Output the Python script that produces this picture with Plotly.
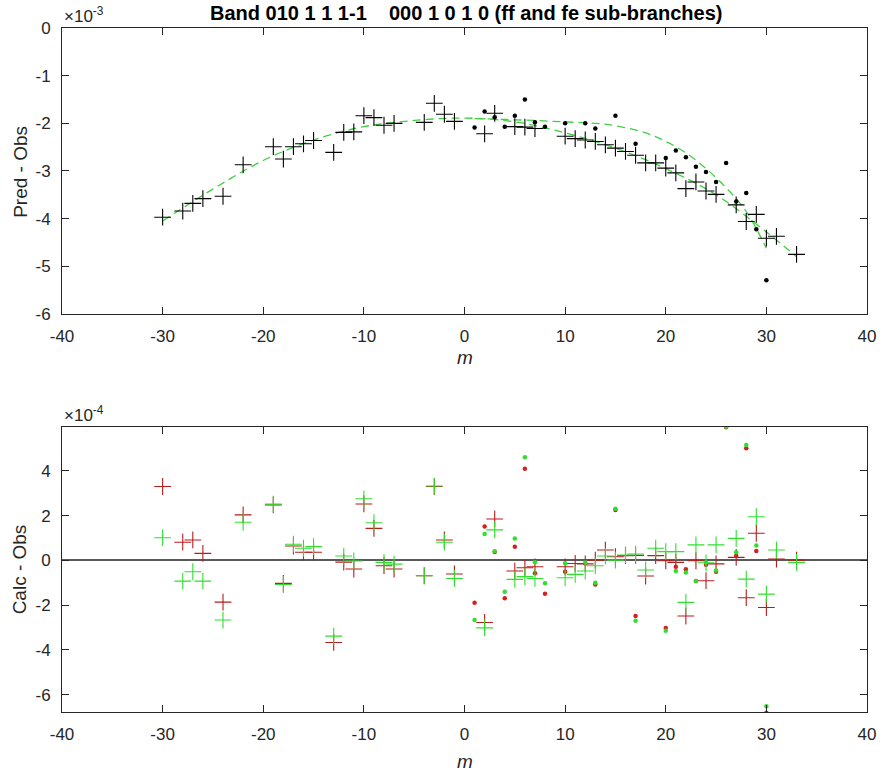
import plotly.graph_objects as go

# ---- data -------------------------------------------------------------
# ff sub-branch lines (crosses) and fe sub-branch lines (dots)
ff_m = [-30, -28, -27, -26, -24, -22, -19, -18, -17, -16, -15, -13, -12, -11,
        -10, -9, -8, -7, -4, -3, -2, -1, 2, 3, 5, 6, 7, 10, 11, 12, 13, 14,
        15, 16, 17, 18, 19, 20, 21, 22, 23, 24, 25, 27, 28, 29, 30, 31, 33]
fe_m = [1, 2, 3, 4, 5, 6, 7, 8, 10, 12, 13, 15, 17, 20, 21, 22, 23, 24, 25,
        26, 27, 28, 29, 30]

# Pred - Obs, units of 1e-3
ff_pred_obs = [-3.97, -3.84, -3.68, -3.58, -3.53, -2.87, -2.49, -2.75, -2.49,
               -2.43, -2.36, -2.61, -2.19, -2.18, -1.84, -1.88, -2.04, -2.00,
               -1.98, -1.58, -1.81, -1.96, -2.22, -1.79, -2.07, -2.08, -2.11,
               -2.27, -2.32, -2.35, -2.38, -2.45, -2.52, -2.59, -2.67, -2.83,
               -2.83, -2.94, -3.04, -3.37, -3.23, -3.42, -3.49, -3.71, -4.06,
               -3.91, -4.41, -4.37, -4.75]
fe_pred_obs = [-2.09, -1.75, -1.87, -2.07, -1.84, -1.50, -1.98, -2.07, -2.00,
               -2.00, -2.11, -1.84, -2.43, -2.73, -2.57, -2.71, -2.91, -3.02,
               -3.23, -2.83, -3.64, -3.46, -4.22, -5.29]

# smooth fitted curves through Pred - Obs, units of 1e-3
ff_fit_m = [-30, -25, -20, -15, -10, -5, 0, 5, 10, 15, 20, 25, 30, 33]
ff_fit = [-4.05, -3.38, -2.78, -2.35, -2.07, -1.94, -1.89, -1.97, -2.20,
          -2.52, -2.95, -3.50, -4.28, -4.80]
fe_fit_m = [1, 4, 7, 10, 13, 15, 18, 20, 22, 24, 26, 28, 30]
fe_fit = [-1.90, -1.92, -1.94, -1.97, -2.00, -2.05, -2.20, -2.38, -2.62,
          -2.95, -3.35, -3.85, -4.62]

# Calc - Obs, units of 1e-4 (red and green fits)
ff_calc_red = [3.30, 0.81, 0.91, 0.31, -1.87, 2.03, 2.48, -1.03, 0.64, 0.36,
               0.36, -3.67, -0.08, -0.39, 2.52, 1.43, -0.24, -0.39, -0.69,
               3.30, 0.91, -0.61, -2.78, 1.85, -0.48, -0.33, -0.29, -0.29,
               -0.14, -0.16, 0.01, 0.46, 0.16, 0.21, 0.22, -0.70, 0.21, -0.02,
               -0.09, -2.49, -0.02, -0.91, -0.16, 0.13, -1.67, 1.21, -2.11,
               0.06, 0.01]
ff_calc_green = [1.01, -0.93, -0.51, -0.93, -2.67, 1.70, 2.51, -1.08, 0.72,
                 0.54, 0.61, -3.39, 0.19, -0.03, 2.75, 1.68, -0.09, -0.17,
                 -0.69, 3.32, 0.81, -0.81, -3.02, 1.36, -0.85, -0.73, -0.81,
                 -0.78, -0.63, -0.48, -0.24, 0.19, 0.01, 0.24, 0.28, -0.43,
                 0.54, 0.39, 0.39, -1.88, 0.69, -0.11, 0.69, 0.98, -0.84,
                 1.95, -1.51, 0.46, -0.09]
fe_calc_red = [-1.90, 1.51, 0.37, -1.70, 0.61, 4.09, -0.58, -1.49, -0.51,
               -0.14, -1.08, 2.25, -2.49, -3.02, -0.29, -0.40, -0.93, -0.20,
               -0.51, 5.95, 0.20, 5.01, 0.42, -6.81]
fe_calc_green = [-2.67, 1.18, 0.40, -1.40, 0.98, 4.61, -0.09, -1.03, -0.13,
                 -0.10, -1.00, 2.30, -2.70, -3.15, -0.48, -0.54, -0.93, -0.10,
                 -0.45, 5.97, 0.36, 5.16, 0.66, -6.52]

# axis ticks
x_ticks = [-40, -30, -20, -10, 0, 10, 20, 30, 40]
x_tick_labels = ["-40", "-30", "-20", "-10", "0", "10", "20", "30", "40"]
top_y_ticks = [-6, -5, -4, -3, -2, -1, 0]
top_y_tick_labels = ["-6", "-5", "-4", "-3", "-2", "-1", "0"]
bot_y_ticks = [-6, -4, -2, 0, 2, 4]
bot_y_tick_labels = ["-6", "-4", "-2", "0", "2", "4"]

# ---- styling ------------------------------------------------------------
FONT = "Liberation Sans, Arial, Helvetica, sans-serif"
AXC = "#262626"
RED = "#d42020"
GREEN = "#2ee02e"
FITC = "#3fcf3f"

fig = go.Figure()

cross = dict(symbol="cross-thin", size=12)
dot = dict(symbol="circle", size=4.5)

# top panel
fig.add_trace(go.Scatter(x=ff_fit_m, y=ff_fit, mode="lines", line_shape="spline",
                         line=dict(color=FITC, width=1.3, dash="8px,5px"),
                         xaxis="x", yaxis="y"))
fig.add_trace(go.Scatter(x=fe_fit_m, y=fe_fit, mode="lines", line_shape="spline",
                         line=dict(color=FITC, width=1.3, dash="8px,5px"),
                         xaxis="x", yaxis="y"))
fig.add_trace(go.Scatter(x=ff_m, y=ff_pred_obs, mode="markers",
                         marker=dict(**cross, color="black", line=dict(color="black", width=1.1)),
                         xaxis="x", yaxis="y"))
fig.add_trace(go.Scatter(x=fe_m, y=fe_pred_obs, mode="markers",
                         marker=dict(**dot, color="black", line=dict(width=0)),
                         xaxis="x", yaxis="y"))

# bottom panel
fig.add_trace(go.Scatter(x=ff_m, y=ff_calc_red, mode="markers",
                         marker=dict(**cross, color=RED, line=dict(color="#b81c1c", width=1.1)),
                         xaxis="x2", yaxis="y2"))
fig.add_trace(go.Scatter(x=fe_m, y=fe_calc_red, mode="markers",
                         marker=dict(**dot, color=RED, line=dict(width=0)),
                         xaxis="x2", yaxis="y2"))
fig.add_trace(go.Scatter(x=ff_m, y=ff_calc_green, mode="markers",
                         marker=dict(**cross, color=GREEN, line=dict(color=GREEN, width=1.1)),
                         xaxis="x2", yaxis="y2"))
fig.add_trace(go.Scatter(x=fe_m, y=fe_calc_green, mode="markers",
                         marker=dict(**dot, color=GREEN, line=dict(width=0)),
                         xaxis="x2", yaxis="y2"))

common_axis = dict(showgrid=False, showline=True, linecolor=AXC, linewidth=1,
                   mirror="ticks", ticks="inside", ticklen=7, tickcolor=AXC,
                   tickwidth=1, tickfont=dict(family=FONT, size=17, color=AXC))

fig.update_layout(
    width=888, height=774,
    margin=dict(l=62, r=14, t=28, b=62),
    paper_bgcolor="white", plot_bgcolor="white",
    showlegend=False,
    xaxis=dict(**common_axis, domain=[0, 1], range=[-40, 40], anchor="y",
               tickvals=x_ticks, ticktext=x_tick_labels, zeroline=False,
               ticklabelstandoff=7),
    yaxis=dict(**common_axis, domain=[0.5819, 1], range=[-6, 0], anchor="x",
               tickvals=top_y_ticks, ticktext=top_y_tick_labels, zeroline=False,
               ticklabelstandoff=7),
    xaxis2=dict(**common_axis, domain=[0, 1], range=[-40, 40], anchor="y2",
                tickvals=x_ticks, ticktext=x_tick_labels, zeroline=False,
                ticklabelstandoff=7),
    yaxis2=dict(**common_axis, domain=[0, 0.4167], range=[-6.78, 5.96], anchor="x2",
                tickvals=bot_y_ticks, ticktext=bot_y_tick_labels,
                zeroline=True, zerolinecolor="#5a5a5a", zerolinewidth=1.5,
                ticklabelstandoff=7),
)


def py(p):
    """Convert a vertical pixel position to paper units."""
    return (712 - p) / 684


def px(p):
    """Convert a horizontal pixel position to paper units."""
    return (p - 62) / 812


ann_font = dict(family=FONT, size=19, color=AXC)
annotations = [
    dict(text="<b>Band 010 1 1 1-1\u00a0\u00a0\u00a0\u00a0000 1 0 1 0 (ff and fe sub-branches)</b>",
         x=px(470), y=py(13), font=dict(family=FONT, size=20, color="black")),
    dict(text="\u00d710<sup>-3</sup>", x=0.0, y=1.0, xanchor="left", yanchor="bottom",
         font=dict(family=FONT, size=17, color=AXC)),
    dict(text="\u00d710<sup>-4</sup>", x=0.0, y=py(427), xanchor="left", yanchor="bottom",
         font=dict(family=FONT, size=17, color=AXC)),
    dict(text="Pred - Obs", x=px(19.5), y=py(172), textangle=-90, font=ann_font),
    dict(text="Calc - Obs", x=px(19.5), y=py(569.5), textangle=-90, font=ann_font),
    dict(text="<i>m</i>", x=px(468), y=py(357), font=ann_font),
    dict(text="<i>m</i>", x=px(468), y=py(761), font=ann_font),
]
for a in annotations:
    a.update(xref="paper", yref="paper", showarrow=False)
    a.setdefault("xanchor", "center")
    a.setdefault("yanchor", "middle")
fig.update_layout(annotations=annotations)

fig.write_html("out.html")
